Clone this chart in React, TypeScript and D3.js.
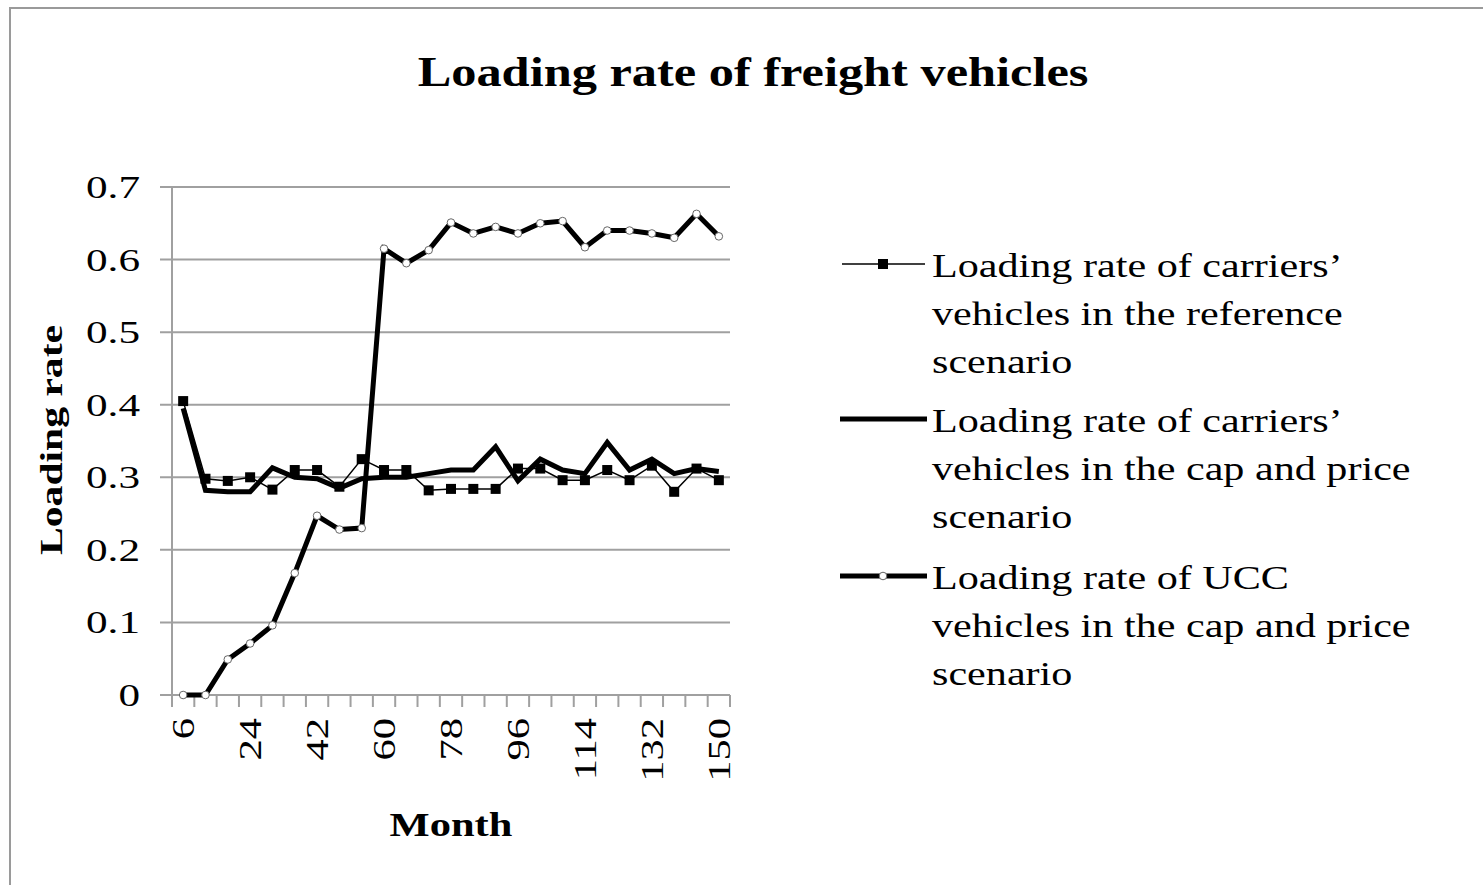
import React from "react";
import * as d3 from "d3";

const months = [6, 12, 18, 24, 30, 36, 42, 48, 54, 60, 66, 72, 78, 84, 90, 96, 102, 108, 114, 120, 126, 132, 138, 144, 150];
const tickMonths = [6, 24, 42, 60, 78, 96, 114, 132, 150];
const yTicks = [0, 0.1, 0.2, 0.3, 0.4, 0.5, 0.6, 0.7];

const referenceSeries = [0.405, 0.298, 0.295, 0.3, 0.283, 0.31, 0.31, 0.287, 0.325, 0.31, 0.31, 0.282, 0.284, 0.284, 0.284, 0.312, 0.312, 0.296, 0.296, 0.31, 0.296, 0.316, 0.28, 0.312, 0.296];
const capPriceSeries = [0.395, 0.282, 0.28, 0.28, 0.313, 0.3, 0.298, 0.285, 0.298, 0.3, 0.3, 0.305, 0.31, 0.31, 0.342, 0.295, 0.325, 0.31, 0.305, 0.348, 0.31, 0.325, 0.305, 0.312, 0.308];
const uccSeries = [0, 0, 0.049, 0.071, 0.096, 0.168, 0.247, 0.228, 0.23, 0.615, 0.595, 0.613, 0.651, 0.636, 0.645, 0.636, 0.65, 0.653, 0.617, 0.64, 0.64, 0.636, 0.63, 0.663, 0.632];

const legendLabels = [
  ["Loading rate of carriers\u2019", "vehicles in the reference", "scenario"],
  ["Loading rate of carriers\u2019", "vehicles in the cap and price", "scenario"],
  ["Loading rate of UCC", "vehicles in the cap and price", "scenario"],
];

const FONT = "'Liberation Serif', 'Times New Roman', serif";

function T(props: {
  x: number; y: number; rot?: number; sx: number; size: number; bold?: boolean;
  anchor?: "start" | "middle" | "end"; children: React.ReactNode;
}) {
  const { x, y, rot = 0, sx, size, bold, anchor = "start", children } = props;
  return (
    <text
      transform={`translate(${x},${y}) rotate(${rot}) scale(${sx},1)`}
      textAnchor={anchor}
      fontFamily={FONT}
      fontWeight={bold ? "bold" : "normal"}
      fontSize={size}
      fill="#000"
    >
      {children}
    </text>
  );
}

export default function App() {
  const left = 172, right = 730, top = 187, bottom = 695;
  const x = d3.scaleBand<number>().domain(months).range([left, right]).padding(0);
  const y = d3.scaleLinear().domain([0, 0.7]).range([bottom, top]);
  const cx = (m: number) => (x(m) as number) + x.bandwidth() / 2;
  const line = d3.line<number>().x((_, i) => cx(months[i])).y((v) => y(v));
  const grid = "#a0a0a0";

  const boundaries = months.map((m) => x(m) as number).concat([right]);

  return (
    <svg width={1483} height={885} style={{ position: "absolute", left: 0, top: 0 }}>
      <rect x={0} y={0} width={1483} height={885} fill="#fff" />
      <rect x={10} y={8} width={1480} height={890} fill="none" stroke="#9a9a9a" strokeWidth={2} />
      <T x={753} y={86} sx={1.2} size={42} bold anchor="middle">
        Loading rate of freight vehicles
      </T>

      {yTicks.map((t) => (
        <g key={t}>
          <line x1={160} x2={right} y1={y(t)} y2={y(t)} stroke={grid} strokeWidth={2} />
          <T x={140} y={y(t) + 11} sx={1.35} size={32} anchor="end">
            {String(t)}
          </T>
        </g>
      ))}
      <line x1={left} x2={left} y1={top} y2={bottom + 12} stroke={grid} strokeWidth={2} />
      {boundaries.map((b, i) => (
        <line key={i} x1={b} x2={b} y1={bottom} y2={bottom + 12} stroke={grid} strokeWidth={2} />
      ))}
      {tickMonths.map((m) => (
        <T key={m} x={cx(m) + 11} y={718} rot={-90} sx={1.33} size={32} anchor="end">
          {m}
        </T>
      ))}
      <T x={62} y={440} rot={-90} sx={1.3} size={32} bold anchor="middle">
        Loading rate
      </T>
      <T x={451} y={836} sx={1.25} size={34} bold anchor="middle">
        Month
      </T>

      {/* reference series */}
      <path d={line(referenceSeries) || ""} fill="none" stroke="#000" strokeWidth={1.5} />
      {referenceSeries.map((v, i) => (
        <rect key={i} x={cx(months[i]) - 5} y={y(v) - 5} width={10} height={10} fill="#000" />
      ))}
      {/* cap and price carriers */}
      <path d={line(capPriceSeries) || ""} fill="none" stroke="#000" strokeWidth={5} />
      {/* UCC */}
      <path d={line(uccSeries) || ""} fill="none" stroke="#000" strokeWidth={5} />
      {uccSeries.map((v, i) => (
        <circle key={i} cx={cx(months[i])} cy={y(v)} r={3.8} fill="#fff" stroke="#666" strokeWidth={1} />
      ))}

      {/* legend */}
      {legendLabels.map((lines, k) => {
        const ly = [264, 419, 576][k];
        return (
          <g key={k}>
            {k === 0 ? (
              <>
                <line x1={842} x2={925} y1={ly} y2={ly} stroke="#000" strokeWidth={1.5} />
                <rect x={878} y={ly - 5} width={10} height={10} fill="#000" />
              </>
            ) : (
              <line x1={840} x2={927} y1={ly} y2={ly} stroke="#000" strokeWidth={5} />
            )}
            {k === 2 && <circle cx={883} cy={ly} r={3.8} fill="#fff" stroke="#666" strokeWidth={1} />}
            {lines.map((t, j) => (
              <T key={j} x={932} y={ly + 13 + j * 48} sx={1.24} size={34}>
                {t}
              </T>
            ))}
          </g>
        );
      })}
    </svg>
  );
}
